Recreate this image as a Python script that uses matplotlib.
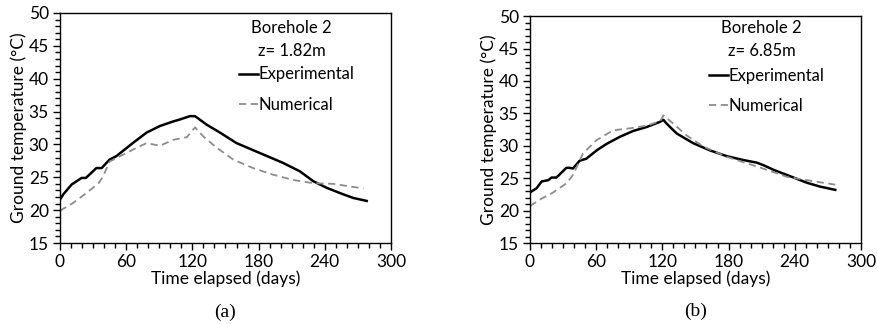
import matplotlib.pyplot as plt
from matplotlib.ticker import MultipleLocator

plt.rcParams['font.family'] = ['Lato', 'DejaVu Sans']

# Borehole 2, z = 1.82 m
exp_a_days = [0, 3, 10.6, 19.6, 23.5, 33, 37.8, 45, 51, 66, 78.5, 90.6, 102.7, 108.8,
              117.8, 122.4, 133, 145, 160, 181, 202, 217.5, 229.6, 241.7, 256.8, 265.9, 278]
exp_a_temp = [21.6, 22.4, 23.9, 24.9, 24.9, 26.4, 26.4, 27.7, 28.2, 30.2, 31.8, 32.8, 33.5, 33.8,
              34.3, 34.3, 33.0, 31.8, 30.2, 28.7, 27.2, 25.9, 24.4, 23.4, 22.4, 21.85, 21.4]
num_a_days = [0, 12, 24, 35, 39, 45, 51, 66, 78.5, 90.6, 102.7, 115, 122.4, 130, 142,
              157, 175, 193, 211, 229.6, 247.7, 263, 275]
num_a_temp = [19.9, 21.1, 22.6, 24.1, 25.1, 27.4, 27.9, 29.2, 30.2, 29.8, 30.7, 31.1, 32.6, 31.2, 29.5,
              27.7, 26.4, 25.4, 24.6, 24.1, 24.0, 23.6, 23.3]

# Borehole 2, z = 6.85 m
exp_b_days = [0, 6, 10.6, 16.6, 19.6, 24, 33, 36, 39, 45, 51, 60.5, 69.5, 81.6, 93.7, 105.8,
              117.9, 121, 124, 133, 148, 163, 178.4, 193.5, 205.6, 211.7, 220.7, 232.8, 251, 263, 276.7]
exp_b_temp = [22.8, 23.45, 24.5, 24.7, 25.1, 25.1, 26.6, 26.6, 26.5, 27.7, 28.0, 29.3, 30.3, 31.4, 32.3, 32.9,
              33.7, 34.0, 33.4, 31.9, 30.4, 29.3, 28.4, 27.8, 27.4, 27.0, 26.3, 25.5, 24.3, 23.7, 23.2]
num_b_days = [0, 9, 21, 33, 39, 48, 60.5, 75.6, 90.7, 105.8, 118, 121, 130, 142, 157,
              178.4, 196.6, 214.7, 233, 251, 276.7]
num_b_temp = [20.7, 21.7, 22.8, 24.2, 25.5, 28.8, 30.9, 32.4, 32.7, 33.1, 33.8, 34.7, 33.4, 31.6, 29.9,
              28.3, 27.3, 26.3, 25.2, 24.7, 24.0]

panels = [
    ('z= 1.82m', exp_a_days, exp_a_temp, num_a_days, num_a_temp, '(a)'),
    ('z= 6.85m', exp_b_days, exp_b_temp, num_b_days, num_b_temp, '(b)'),
]
rects = [[0.0683, 0.25, 0.377, 0.71], [0.6036, 0.25, 0.377, 0.70]]
text_y = [(0.935, 0.835, 0.775), (0.947, 0.846, 0.78)]

fig = plt.figure(figsize=(8.78, 3.24), dpi=100)

for rect, ty, (depth, ed, et, nd, nt, cap) in zip(rects, text_y, panels):
    ax = fig.add_axes(rect)
    ax.plot(ed, et, color='black', lw=1.8, label='Experimental')
    ax.plot(nd, nt, color='#8c8c8c', lw=1.3, ls=(0, (4, 2.5)), label='Numerical')
    ax.set_xlim(0, 300)
    ax.set_ylim(15, 50)
    ax.xaxis.set_major_locator(MultipleLocator(60))
    ax.xaxis.set_minor_locator(MultipleLocator(10))
    ax.yaxis.set_major_locator(MultipleLocator(5))
    ax.yaxis.set_minor_locator(MultipleLocator(1))
    ax.tick_params(which='major', length=5, width=1, labelsize=12.5, pad=3)
    ax.tick_params(which='minor', length=3.5, width=1)
    for s in ax.spines.values():
        s.set_linewidth(1)
    ax.set_xlabel('Time elapsed (days)', fontsize=12.5, labelpad=0)
    ax.set_ylabel('Ground temperature (°C)', fontsize=12.5, labelpad=1)
    ax.text(0.70, ty[0], 'Borehole 2', transform=ax.transAxes, ha='center', va='center', fontsize=12)
    ax.text(0.70, ty[1], depth, transform=ax.transAxes, ha='center', va='center', fontsize=12)
    ax.legend(loc='upper left', bbox_to_anchor=(0.535, ty[2]), frameon=False, fontsize=12,
              handlelength=1.15, handletextpad=0.05, labelspacing=0.85, borderpad=0.1,
              borderaxespad=0)
    ax.text(0.5, -0.30, cap, transform=ax.transAxes, ha='center', va='center',
            fontsize=14, family='Liberation Serif')

fig.savefig('out.png', dpi=100)
